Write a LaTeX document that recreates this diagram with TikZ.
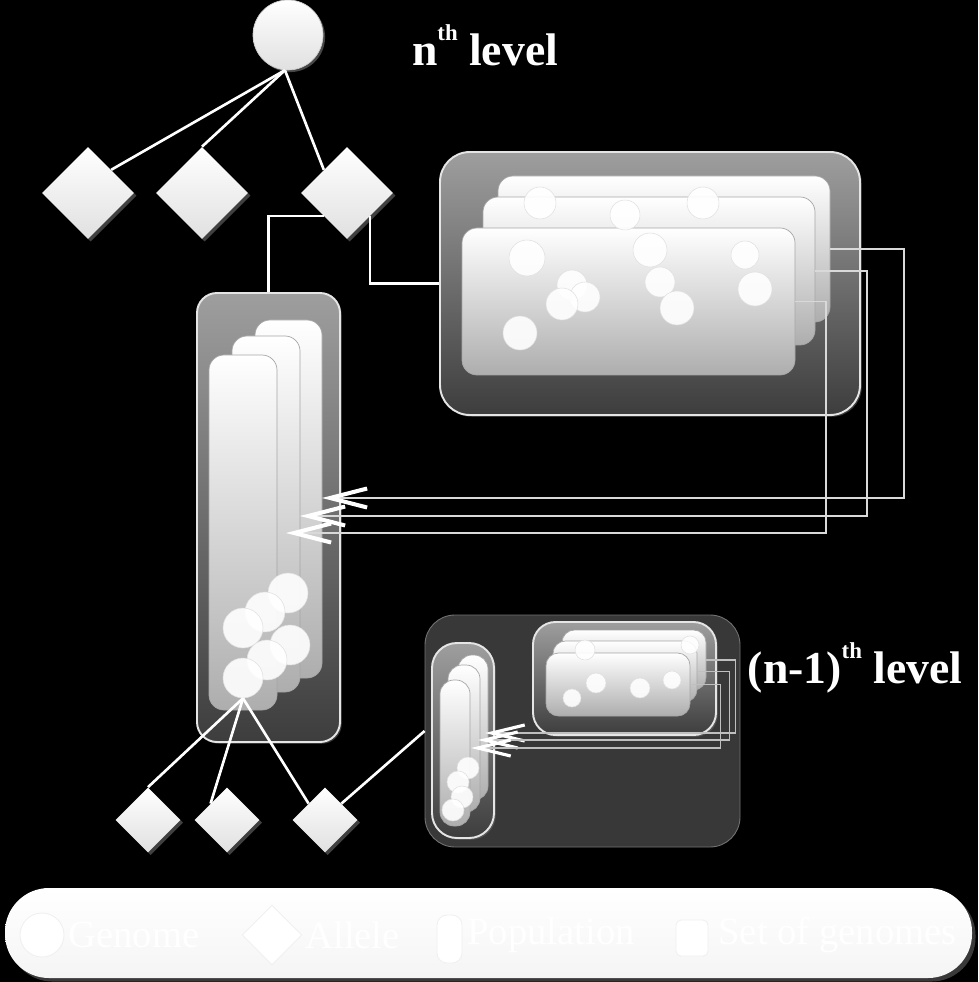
\documentclass[tikz,border=0pt]{standalone}
\usepackage{fontspec}
\setmainfont{Liberation Serif}
\usetikzlibrary{arrows.meta,positioning,fit,backgrounds,calc,shapes.geometric,shadows}

\newcommand{\lvsup}[1]{\raisebox{0.55em}{\fontsize{13}{13}\selectfont #1}}

\begin{document}
\begin{tikzpicture}[
    x=0.02cm, y=-0.02cm,
    genome/.style={circle,draw=black!20,line width=0.4pt,inner sep=0pt,
                   top color=white,bottom color=black!12,
                   drop shadow={shadow xshift=1.2pt,shadow yshift=-1.2pt,fill=black!45}},
    allele/.style={diamond,aspect=1,inner sep=0pt,draw=none,top color=white,bottom color=black!12,
                   drop shadow={shadow xshift=1.5pt,shadow yshift=-1.5pt,fill=black!50}},
    bigallele/.style={allele,minimum size=1.84cm},
    smallallele/.style={allele,minimum size=1.3cm},
    popbox/.style={draw=white!90!black,line width=1.1pt,inner sep=0pt,
                   top color=black!38,bottom color=black!76,
                   drop shadow={shadow xshift=1pt,shadow yshift=-1pt,fill=black!55}},
    stack/.style={draw=white!65!black,line width=0.4pt,inner sep=0pt,rounded corners=0.3cm,
                  top color=white,middle color=white,bottom color=black!32},
    dot/.style={circle,inner sep=0pt,fill=white,draw=black!12,line width=0.3pt,fill opacity=0.9},
    level/.style={draw=black!55,line width=0.5pt,inner sep=0pt,rounded corners=0.6cm,fill=black!78},
    link/.style={draw=white,line width=1.5pt},
    feed/.style={draw=white!85!black,line width=1.1pt,
                 -{Straight Barb[length=7.4mm,width=3.8mm,line width=2.3pt,color=white]}},
    feedsm/.style={draw=black!25,line width=0.6pt,
                   -{Straight Barb[length=6.6mm,width=3.2mm,line width=1.8pt,color=white]}},
    lbl/.style={font=\fontsize{26}{28}\selectfont\bfseries,text=white,inner sep=0pt},
    legbar/.style={inner sep=0pt,rounded corners=0.88cm,top color=white,bottom color=black!4,
                   drop shadow={shadow xshift=2pt,shadow yshift=-2pt,fill=black!55}},
    legicon/.style={fill=white,draw=black!6,line width=0.5pt,inner sep=0pt},
    legtxt/.style={font=\fontsize{22}{24}\selectfont,text=white,anchor=west,inner sep=0pt},
]
\useasboundingbox (0,0) rectangle (978,982);
\fill[black] (0,0) rectangle (978,982);

% ---- n-th level: genome and its alleles ----
\node[genome,minimum size=1.4cm] (top) at (288,35) {};
\node[bigallele] (a1) at (88,193) {};
\node[bigallele] (a2) at (202,193) {};
\node[bigallele] (a3) at (347,193) {};

\draw[link] (top.265) -- (a1.45);
\draw[link] (top.265) -- (a2.north);
\draw[link] (top.265) -- (a3.135);

\node[lbl] (nlab) at (485,45) {n\lvsup{th} level};

% ---- population of the right allele (top right) ----
\node[popbox,rounded corners=0.6cm,fit={(440,152)(860,415)}] (rpop) {};
\node[stack,fit={(498,176)(830,322)}] (rA) {};
\node[stack,fit={(483,197)(815,345)}] (rB) {};
\node[stack,fit={(462,228)(795,375)}] (rC) {};
\foreach \cx/\cy/\r [count=\i] in {540/203/16,703/203/16,625/215/15,527/258/18,650/250/17,
    745/255/14,572/285/15,585/297/15,562/304/16,660/282/15,677/308/17,755/289/17,520/333/17}
  \node[dot,minimum size=\r*0.04cm] (rdot\i) at (\cx,\cy) {};

% ---- population of the left allele (tall box) ----
\node[popbox,rounded corners=0.4cm,fit={(197,293)(340,742)}] (lpop) {};
\node[stack,fit={(255,320)(322,678)}] (lA) {};
\node[stack,fit={(232,336)(300,692)}] (lB) {};
\node[stack,fit={(209,355)(277,710)}] (lC) {};
\foreach \cx/\cy/\r [count=\i] in {288/593/20,265/612/20,243/628/20,290/645/20,267/660/20,243/678/20}
  \node[dot,minimum size=\r*0.04cm] (ldot\i) at (\cx,\cy) {};

\draw[link] (a3.225) -| (lpop.north);
\draw[link] (a3.-45) |- (rpop.west);

% ---- (n-1)-th level ----
\node[level,fit={(425,615)(740,847)}] (lowbox) {};
\node[popbox,rounded corners=0.5cm,fit={(432,643)(494,838)}] (spop) {};
\node[stack,rounded corners=0.28cm,fit={(458,655)(488,800)}] (sA) {};
\node[stack,rounded corners=0.28cm,fit={(448,665)(480,812)}] (sB) {};
\node[stack,rounded corners=0.28cm,fit={(440,680)(470,826)}] (sC) {};
\foreach \cx/\cy/\r [count=\i] in {468/768/11,458/782/11,462/797/11,453/810/11}
  \node[dot,minimum size=\r*0.04cm] (sdot\i) at (\cx,\cy) {};

\node[popbox,rounded corners=0.45cm,fit={(533,622)(716,735)}] (hpop) {};
\node[stack,rounded corners=0.25cm,fit={(562,630)(706,690)}] (hA) {};
\node[stack,rounded corners=0.25cm,fit={(553,641)(697,702)}] (hB) {};
\node[stack,rounded corners=0.25cm,fit={(546,653)(690,716)}] (hC) {};
\foreach \cx/\cy/\r [count=\i] in {585/650/10,690/645/9,596/683/10,640/688/10,672/680/9,572/698/9}
  \node[dot,minimum size=\r*0.04cm] (hdot\i) at (\cx,\cy) {};

\node[lbl] (mlab) at (855,668) {(n-1)\lvsup{th} level};

% ---- alleles of the left population ----
\node[smallallele] (b1) at (148,820) {};
\node[smallallele] (b2) at (227,820) {};
\node[smallallele] (b3) at (325,820) {};

\draw[link] (ldot6.south) -- (b1.north);
\draw[link] (ldot6.south) -- (b2.135);
\draw[link] (ldot6.south) -- (b3.135);
\draw[link] (b3.45) -- (lowbox.west);

% ---- feedback of the genome sets ----
\coordinate (tA) at (322,498);
\coordinate (tB) at (300,516);
\coordinate (tC) at (286,533);
\draw[feed] (rA.east) -- ++(74,0) |- (tA);
\draw[feed] (rB.east) -- ++(52,0) |- (tB);
\draw[feed] (rC.east) -- ++(31,0) |- (tC);

\coordinate (uA) at (485,733);
\coordinate (uB) at (478,740);
\coordinate (uC) at (471,748);
\draw[feedsm] (hA.east) -- ++(29,0) |- (uA);
\draw[feedsm] (hB.east) -- ++(32,0) |- (uB);
\draw[feedsm] (hC.east) -- ++(30,0) |- (uC);

% ---- legend ----
\node[legbar,fit={(5,888)(972,978)}] (legend) {};
\node[legicon,circle,minimum size=0.88cm] (kgen) at (42,935) {};
\node[legtxt] (kgent) at (68,935) {Genome};
\node[legicon,diamond,aspect=1,minimum size=1.2cm] (kall) at (272,935) {};
\node[legtxt] (kallt) at (305,935) {Allele};
\node[legicon,rounded corners=0.2cm,fit={(437,915)(462,963)}] (kpop) {};
\node[legtxt] (kpopt) at (467,935) {Population};
\node[legicon,rounded corners=0.1cm,fit={(676,920)(708,956)}] (kset) {};
\node[legtxt] (ksett) at (718,935) {Set of genomes};

\end{tikzpicture}
\end{document}
